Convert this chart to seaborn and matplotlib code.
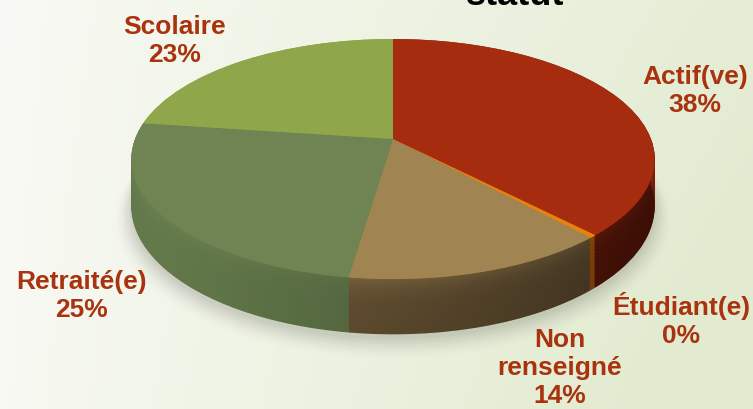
"""Répartition par statut - camembert façon 3D."""

import matplotlib.pyplot as plt
import matplotlib.transforms as mtransforms
import numpy as np
import seaborn as sns
from matplotlib.colors import to_rgb
from matplotlib.patches import Polygon

categories = ["Actif(ve)", "Étudiant(e)", "Non\nrenseigné", "Retraité(e)", "Scolaire"]
shares = [37.9, 0.4, 14.0, 24.9, 22.8]
pct_labels = ["38%", "0%", "14%", "25%", "23%"]

top_colors = ["#A52C0F", "#E8820F", "#A08452", "#6F8452", "#8FA64B"]
side_colors = ["#6A1A0A", "#C06010", "#6A5535", "#62784A", "#6E8440"]

W, H = 753, 410
CX, CY, RX, RY, K, DEPTH = 393, 140, 258, 116.7, 0.167, 46


class Persp(mtransforms.Transform):
    """Unit disc -> tilted disc in pixel space (simple perspective)."""
    input_dims = output_dims = 2
    is_separable = False
    has_inverse = False

    def __init__(self, drop=0.0, grow=1.0):
        super().__init__()
        self.drop = drop
        self.grow = grow

    def transform_non_affine(self, values):
        v = np.asarray(values, dtype=float)
        u, w = v[:, 0] * self.grow, v[:, 1] * self.grow
        g = 1.0 / (1.0 + K * w)
        return np.column_stack([CX + RX * u * g, CY - RY * w * g + self.drop * g])


sns.set_theme(style="white")
plt.rcParams["font.family"] = ["Liberation Sans", "DejaVu Sans"]

fig = plt.figure(figsize=(W / 100, H / 100), dpi=100)

# background gradient
bg = fig.add_axes([0, 0, 1, 1], zorder=0)
xx, yy = np.meshgrid(np.linspace(0, 1, 300), np.linspace(0, 1, 160))
t = np.clip(0.85 * xx ** 0.9 + 0.25 * yy * xx + 0.05 * yy, 0, 1)[..., None]
c0 = np.array([249, 250, 245]) / 255
c1 = np.array([226, 235, 208]) / 255
bg.imshow(c0 * (1 - t) + c1 * t, aspect="auto", extent=(0, 1, 1, 0))
bg.set_axis_off()

ax = fig.add_axes([0, 0, 1, 1], zorder=1)
ax.patch.set_alpha(0)


def draw_pie(colors, drop=0.0, grow=1.0, zorder=1, **wp):
    wedges, _ = ax.pie(shares, colors=colors, startangle=90, counterclock=False,
                       radius=1, center=(0, 0), wedgeprops=dict(linewidth=0, **wp))
    tr = Persp(drop, grow) + ax.transData
    for w in wedges:
        w.set_transform(tr)
        w.set_zorder(zorder)
    return wedges


# soft shadow under the disc
for k, a in enumerate(np.linspace(0.06, 0.012, 8)):
    draw_pie(["#6b6b60"] * len(shares), drop=DEPTH + 4 + k, grow=1.0 + 0.008 * k,
             zorder=0.5, alpha=a)

# side wall: stacked layers, lighter rim near the top
n = 40
for i, d in enumerate(np.linspace(DEPTH, 0, n)):
    f = i / (n - 1)
    mix = 0.05 + 0.6 * f ** 4
    cols = [tuple(np.array(to_rgb(s)) * (1 - mix) + np.array(to_rgb(tc)) * mix)
            for tc, s in zip(top_colors, side_colors)]
    draw_pie(cols, drop=d, zorder=1)

# darken the side towards the right
tt = np.linspace(0, 2 * np.pi, 200)
ring = np.column_stack([np.cos(tt), np.sin(tt)])
front = ring[(tt >= np.pi - 0.3) & (tt <= 2 * np.pi)]
band = np.vstack([Persp(0).transform(front), Persp(DEPTH).transform(front[::-1])])
clip = Polygon(band, closed=True, transform=ax.transData, facecolor="none", edgecolor="none")
ax.add_patch(clip)
gx = np.clip((np.linspace(0, W, 400) - 150) / 500, 0, 1)
shade = np.zeros((2, 400, 4))
shade[..., 3] = 0.45 * gx ** 1.2
im = ax.imshow(shade, extent=(0, W, H, 0), aspect="auto", zorder=1.5)
im.set_clip_path(clip)

# top face
draw_pie(top_colors, zorder=2)

ax.set_aspect("auto")
ax.set_xlim(0, W)
ax.set_ylim(H, 0)
ax.set_axis_off()

label_pos = [(695, 91), (681, 320), (560, 368), (82, 296), (175, 41)]
for cat, pct, (px, py) in zip(categories, pct_labels, label_pos):
    fig.text(px / W, 1 - py / H, f"{cat}\n{pct}", ha="center", va="center",
             fontsize=19, fontweight="bold", color="#A9330F", linespacing=1.2, zorder=3)

fig.text(515 / W, 1 - 5 / H, "statut", ha="center", va="baseline", fontsize=26,
         fontweight="bold", color="black", zorder=3)

fig.savefig("out.png", dpi=100)
plt.close(fig)
